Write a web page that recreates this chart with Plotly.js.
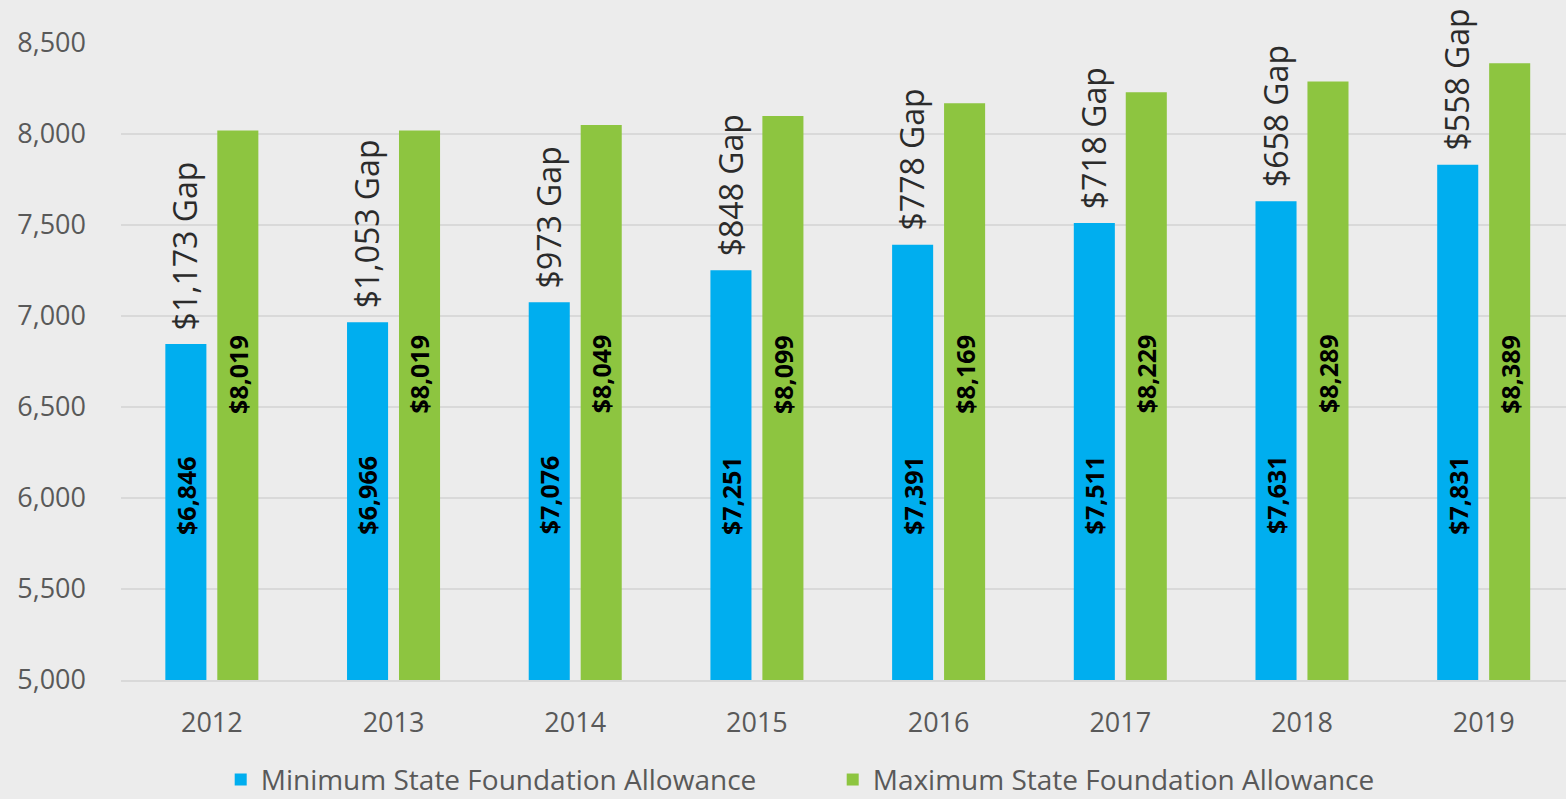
<!DOCTYPE html>
<html>
<head>
<meta charset="utf-8">
<script src="https://cdn.plot.ly/plotly-3.0.1.min.js"></script>
<style>html,body{margin:0;padding:0;background:#ECECEC;}#chart{width:1566px;height:799px;}</style>
</head>
<body>
<div id="chart"></div>
<script>
const years = ["2012","2013","2014","2015","2016","2017","2018","2019"];
const minAllowance = [6846, 6966, 7076, 7251, 7391, 7511, 7631, 7831];
const maxAllowance = [8019, 8019, 8049, 8099, 8169, 8229, 8289, 8389];
const gapLabels = ["$1,173 Gap","$1,053 Gap","$973 Gap","$848 Gap","$778 Gap","$718 Gap","$658 Gap","$558 Gap"];
const seriesNames = ["Minimum State Foundation Allowance", "Maximum State Foundation Allowance"];

const fmt = v => "$" + v.toLocaleString("en-US");
const FONT = "Open Sans, sans-serif";
const BLUE = "#00AEEF", GREEN = "#8DC540";

const traces = [
  {type:"bar", name:seriesNames[0], x:years, y:minAllowance, marker:{color:BLUE, line:{width:0}}, hoverinfo:"none"},
  {type:"bar", name:seriesNames[1], x:years, y:maxAllowance, marker:{color:GREEN, line:{width:0}}, hoverinfo:"none"}
];

const annotations = [];
years.forEach((yr, i) => {
  annotations.push({x:i, y:minAllowance[i], xref:"x", yref:"y", text:gapLabels[i], textangle:-90,
    showarrow:false, xanchor:"center", yanchor:"bottom", xshift:-27, yshift:12,
    font:{family:FONT, size:32, color:"#2B2B2B"}});
  annotations.push({x:i, y:6016, xref:"x", yref:"y", text:"<b>"+fmt(minAllowance[i])+"</b>", textangle:-90,
    showarrow:false, xanchor:"center", yanchor:"middle", xshift:-26,
    font:{family:FONT, size:25, color:"#000000"}});
  annotations.push({x:i, y:6681, xref:"x", yref:"y", text:"<b>"+fmt(maxAllowance[i])+"</b>", textangle:-90,
    showarrow:false, xanchor:"center", yanchor:"middle", xshift:26,
    font:{family:FONT, size:25, color:"#000000"}});
});

const layout = {
  width:1566, height:799,
  paper_bgcolor:"#ECECEC", plot_bgcolor:"#ECECEC",
  margin:{l:121, r:0, t:43, b:119, pad:0, autoexpand:false},
  barmode:"group", bargap:0.428, bargroupgap:0.21,
  showlegend:true,
  legend:{orientation:"h", x:0.069, xanchor:"left", yref:"container", y:0.024, yanchor:"middle",
    font:{family:FONT, size:28, color:"#595959"}, entrywidth:567, entrywidthmode:"pixels", bgcolor:"rgba(0,0,0,0)"},
  xaxis:{type:"category", range:[-0.5, 7.453], showgrid:false, zeroline:false,
    showline:true, linecolor:"#D9D9D9", linewidth:2, ticks:"", ticklabelstandoff:18,
    tickfont:{family:FONT, size:27, color:"#595959"}},
  yaxis:{range:[5000, 8500], tickvals:[5000,5500,6000,6500,7000,7500,8000,8500], tickformat:",d",
    showgrid:true, gridcolor:"#D9D9D9", gridwidth:2, zeroline:false, showline:false, ticks:"",
    ticklabelstandoff:34, tickfont:{family:FONT, size:27, color:"#595959"}},
  annotations:annotations
};

Plotly.newPlot("chart", traces, layout, {displayModeBar:false, staticPlot:true});
</script>
</body>
</html>
